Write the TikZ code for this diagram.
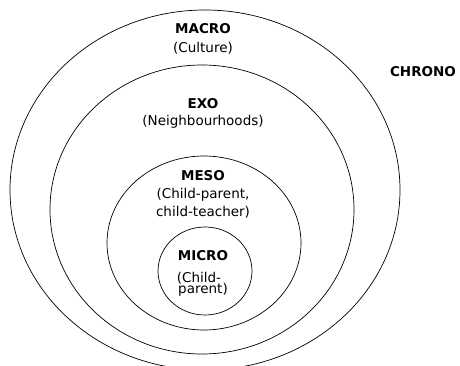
\documentclass[tikz,border=0pt]{standalone}
\usepackage{fontspec}
\setmainfont{DejaVu Sans}

\begin{document}
\begin{tikzpicture}[x=1pt,y=-1pt,
  ttl/.style={font=\fontsize{13.5}{16}\selectfont\bfseries, anchor=base, inner sep=0pt},
  sub/.style={font=\fontsize{13.5}{16}\selectfont, anchor=base, inner sep=0pt},
  ring/.style={draw, line width=0.7pt}]
\useasboundingbox (0,0) rectangle (460,366);
 \coordinate (macro) at (205,190);
 \coordinate (exo) at (202,209.5);
 \coordinate (meso) at (204,243);
 \coordinate (micro) at (205,271);
\draw[ring] (macro) ellipse [x radius=195pt, y radius=180pt];
\draw[ring] (exo) ellipse [x radius=152pt, y radius=144.5pt];
\draw[ring] (meso) ellipse [x radius=97pt, y radius=87pt];
\draw[ring] (micro) ellipse [x radius=47pt, y radius=44pt];
 \node[ttl] (macrot) at (203,34) {MACRO};
  \node[sub] (macros) at (203,53) {(Culture)};
 \node[ttl] (chrono) at (423,77) {CHRONO};
 \node[ttl] (exot) at (203,109) {EXO};
  \node[sub] (exos) at (203,126) {(Neighbourhoods)};
 \node[ttl] (mesot) at (203,180) {MESO};
  \node[sub] (mesos1) at (203,198) {(Child-parent,};
  \node[sub] (mesos2) at (203,216) {child-teacher)};
 \node[ttl] (microt) at (203,260) {MICRO};
  \node[sub] (micros1) at (199,282) {(Child-};
  \node[sub] (micros2) at (203,293) {parent)};
 \end{tikzpicture}
\end{document}
